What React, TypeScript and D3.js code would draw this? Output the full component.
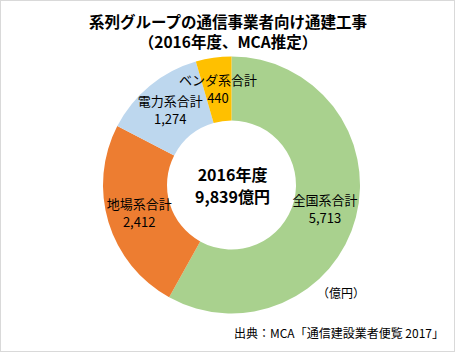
import { useEffect, useRef } from "react";
import * as d3 from "d3";

const categories = ["全国系合計", "地場系合計", "電力系合計", "ベンダ系合計"];
const values = [5713, 2412, 1274, 440];
const colors = ["#A9D18E", "#ED7D31", "#BDD7EE", "#FFC000"];
const titleLines = ["系列グループの通信事業者向け通建工事", "（2016年度、MCA推定）"];
const centerLines = ["2016年度", "9,839億円"];
const unitLabel = "（億円）";
const sourceLabel = "出典：MCA「通信建設業者便覧 2017」";

const FONT = "'Noto Sans CJK JP', 'Noto Sans', sans-serif";

const App = () => {
  const ref = useRef<SVGSVGElement | null>(null);

  useEffect(() => {
    if (!ref.current) return;

    const width = 455;
    const height = 352;
    const cx = 231.5;
    const cy = 185;
    const outer = 128.5;
    const inner = 64.5;

    const svg = d3.select(ref.current);
    svg.selectAll("*").remove();
    svg.attr("width", width).attr("height", height);

    svg
      .append("rect")
      .attr("x", 0.5)
      .attr("y", 0.5)
      .attr("width", width - 1)
      .attr("height", height - 1)
      .attr("fill", "#fff")
      .attr("stroke", "#d9d9d9");

    // title
    svg
      .append("g")
      .selectAll("text")
      .data(titleLines)
      .join("text")
      .attr("x", 228)
      .attr("y", (_, i) => 28 + i * 20)
      .attr("text-anchor", "middle")
      .attr("font-family", FONT)
      .attr("font-weight", "bold")
      .attr("font-size", 15.5)
      .attr("fill", "#000")
      .text((d) => d);

    const data = categories.map((c, i) => ({ label: c, value: values[i] }));

    const pie = d3
      .pie<{ label: string; value: number }>()
      .value((d) => d.value)
      .sort(null);

    const arc = d3
      .arc<d3.PieArcDatum<{ label: string; value: number }>>()
      .innerRadius(inner)
      .outerRadius(outer);

    const g = svg.append("g").attr("transform", `translate(${cx}, ${cy})`);

    const arcs = pie(data);

    g.selectAll("path")
      .data(arcs)
      .join("path")
      // eslint-disable-next-line @typescript-eslint/no-explicit-any
      .attr("d", arc as any)
      .attr("fill", (_, i) => colors[i]);

    const labels = g
      .selectAll("g.lbl")
      .data(arcs)
      .join("g")
      .attr("class", "lbl")
      .attr("transform", (d) => {
        const [x, y] = arc.centroid(d);
        return `translate(${x}, ${y})`;
      });

    labels
      .append("text")
      .attr("y", -4)
      .attr("text-anchor", "middle")
      .attr("font-family", FONT)
      .attr("font-size", 13)
      .attr("fill", "#000")
      .text((d) => d.data.label);

    labels
      .append("text")
      .attr("y", 14)
      .attr("text-anchor", "middle")
      .attr("font-family", FONT)
      .attr("font-size", 13)
      .attr("fill", "#000")
      .text((d) => d3.format(",")(d.data.value));

    // center text
    g.selectAll("text.center")
      .data(centerLines)
      .join("text")
      .attr("class", "center")
      .attr("x", 1)
      .attr("y", (_, i) => -4 + i * 22)
      .attr("text-anchor", "middle")
      .attr("font-family", FONT)
      .attr("font-weight", "bold")
      .attr("font-size", 16)
      .attr("fill", "#000")
      .text((d) => d);

    svg
      .append("text")
      .attr("x", 341)
      .attr("y", 298)
      .attr("text-anchor", "middle")
      .attr("font-family", FONT)
      .attr("font-size", 12)
      .attr("fill", "#000")
      .text(unitLabel);

    svg
      .append("text")
      .attr("x", 444)
      .attr("y", 338)
      .attr("text-anchor", "end")
      .attr("font-family", FONT)
      .attr("font-size", 12)
      .attr("fill", "#000")
      .text(sourceLabel);
  }, []);

  return (
    <svg
      ref={ref}
      style={{ position: "absolute", left: 0, top: 0, display: "block" }}
    ></svg>
  );
};

export default App;
